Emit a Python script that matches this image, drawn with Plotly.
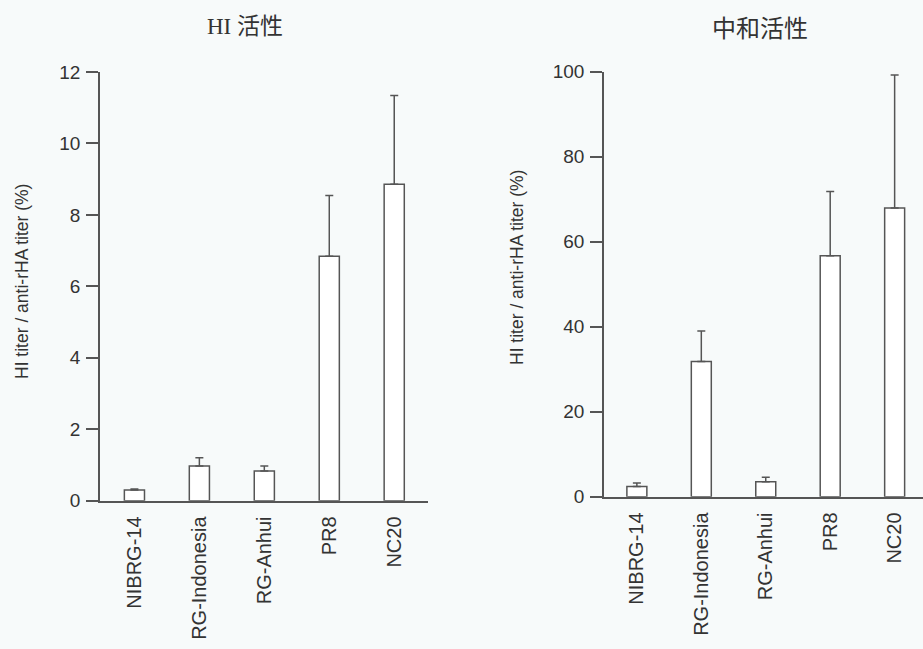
import plotly.graph_objects as go

categories = ["NIBRG-14", "RG-Indonesia", "RG-Anhui", "PR8", "NC20"]
hi_values = [0.30, 0.97, 0.83, 6.84, 8.86]
hi_err = [0.03, 0.23, 0.14, 1.70, 2.48]
nt_values = [2.4, 31.8, 3.5, 56.7, 67.9]
nt_err = [0.8, 7.2, 1.1, 15.1, 31.3]
hi_ticks = [0, 2, 4, 6, 8, 10, 12]
nt_ticks = [0, 20, 40, 60, 80, 100]

W, H = 923, 649
LINE = "#555555"
TEXT = "#333333"
BG = "#f7fafa"
SANS = "Liberation Sans, Arial, sans-serif"

fig = go.Figure()

fig.add_trace(go.Bar(
    x=categories, y=hi_values, width=0.31,
    marker=dict(color="white", line=dict(color=LINE, width=1.5)),
    error_y=dict(type="data", symmetric=False, array=hi_err,
                 arrayminus=[0] * len(hi_err), color=LINE, thickness=1.5, width=4),
    xaxis="x", yaxis="y", showlegend=False,
))
fig.add_trace(go.Bar(
    x=categories, y=nt_values, width=0.31,
    marker=dict(color="white", line=dict(color=LINE, width=1.5)),
    error_y=dict(type="data", symmetric=False, array=nt_err,
                 arrayminus=[0] * len(nt_err), color=LINE, thickness=1.5, width=4),
    xaxis="x2", yaxis="y2", showlegend=False,
))

xcommon = dict(type="category", showline=True, linecolor=LINE, linewidth=1.5,
               ticks="", tickangle=-90, showgrid=False, zeroline=False,
               automargin=False,
               tickfont=dict(family=SANS, size=20, color=TEXT), ticklabelstandoff=6)
ycommon = dict(showline=True, linecolor=LINE, linewidth=1.5, ticks="outside",
               ticklen=12, tickwidth=1.5, tickcolor=LINE, showgrid=False,
               zeroline=False, automargin=False,
               tickfont=dict(family=SANS, size=19, color=TEXT),
               ticklabelstandoff=2)

fig.update_layout(
    width=W, height=H,
    margin=dict(l=0, r=0, t=0, b=0, autoexpand=False),
    paper_bgcolor=BG, plot_bgcolor=BG,
    xaxis=dict(xcommon, domain=[100 / W, 428 / W], range=[-0.53, 4.52], anchor="y"),
    yaxis=dict(ycommon, domain=[1 - 500.7 / H, 1 - 72 / H], range=[0, 12],
               tickvals=hi_ticks, anchor="x"),
    xaxis2=dict(xcommon, domain=[604 / W, 1.0], range=[-0.51, 4.44], anchor="y2"),
    yaxis2=dict(ycommon, domain=[1 - 496.7 / H, 1 - 71.7 / H], range=[0, 100],
                tickvals=nt_ticks, anchor="x2"),
    bargap=0.2,
)

ann = dict(xref="paper", yref="paper", showarrow=False,
           xanchor="center", yanchor="middle")
fig.add_annotation(text="HI titer / anti-rHA titer (%)", x=22 / W, y=1 - 282 / H,
                   textangle=-90, font=dict(family=SANS, size=17.5, color=TEXT), **ann)
fig.add_annotation(text="HI titer / anti-rHA titer (%)", x=517 / W, y=1 - 268 / H,
                   textangle=-90, font=dict(family=SANS, size=17.5, color=TEXT), **ann)
fig.add_annotation(text="HI 活性", x=245 / W, y=1 - 27 / H,
                   font=dict(family="Liberation Serif, Noto Sans CJK SC", size=23, color=TEXT),
                   **ann)
fig.add_annotation(text="中和活性", x=760 / W, y=1 - 27 / H,
                   font=dict(family="Noto Sans CJK SC", size=24, color=TEXT), **ann)

fig.write_html(
    "out.html",
    config={"displayModeBar": False},
    post_script="document.body.style.margin='0';document.body.style.overflow='hidden';",
)
